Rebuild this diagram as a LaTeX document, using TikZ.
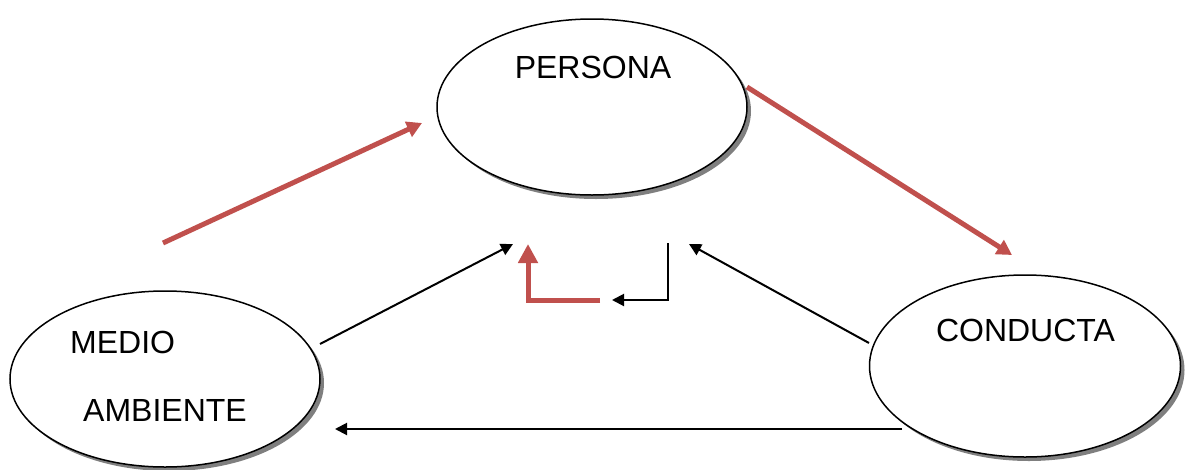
\documentclass[tikz,border=0pt]{standalone}
\usepackage{fontspec}
\setmainfont{Liberation Sans}
\usetikzlibrary{shapes.geometric,shadows,arrows.meta}
\definecolor{accred}{HTML}{C0504D}
\tikzset{
  bubble/.style={ellipse, draw=black, line width=1.5pt, fill=white, inner sep=0pt,
    drop shadow={shadow xshift=4pt, shadow yshift=-4pt, fill=black, opacity=0.5}},
  lbl/.style={inner sep=0pt, font=\fontsize{32}{38}\selectfont},
  redarrow/.style={draw=accred, line width=5pt, -{Triangle[length=15pt,width=16pt]}},
  blackarrow/.style={draw=black, line width=2pt, -{Triangle[length=12pt,width=12pt]}},
}
\begin{document}
\begin{tikzpicture}[x=1pt,y=-1pt]
\useasboundingbox (0,0) rectangle (1186,469);
% ellipses
\node[bubble, minimum width=310pt, minimum height=176pt] (persona) at (592,107) {};
\node[bubble, minimum width=310pt, minimum height=176pt] (medio) at (165,379) {};
\node[bubble, minimum width=311pt, minimum height=182pt] (conducta) at (1025,366) {};
% labels
\node[lbl, anchor=base] (tpersona) at (593,78) {PERSONA};
\node[lbl, anchor=base west] (tmedio) at (70,353) {MEDIO};
\node[lbl, anchor=base west] (tambiente) at (83,421.5) {AMBIENTE};
\node[lbl, anchor=base] (tconducta) at (1025.5,341) {CONDUCTA};
% connector endpoints
\coordinate (r1s) at (163,243);
\coordinate (r1e) at (422,123);
\coordinate (r2s) at (747,87);
\coordinate (r2e) at (1012,255);
\coordinate (b1s) at (320,344);
\coordinate (b1e) at (513,244);
\coordinate (b2s) at (869,343);
\coordinate (b2e) at (689,244);
\coordinate (b3s) at (902,429);
\coordinate (b3e) at (335,429);
\coordinate (rls) at (600,300);
\coordinate (rlc) at (528,300);
\coordinate (rle) at (528,244);
\coordinate (bls) at (668,243);
\coordinate (blc) at (668,300);
\coordinate (ble) at (612,300);
% arrows
\draw[redarrow] (r1s) -- (r1e);
\draw[redarrow] (r2s) -- (r2e);
\draw[blackarrow] (b1s) -- (b1e);
\draw[blackarrow] (b2s) -- (b2e);
\draw[blackarrow] (b3s) -- (b3e);
\draw[draw=accred, line width=5pt, line join=miter, -{Triangle[length=19pt,width=19pt]}] (rls) -- (rlc) -- (rle);
\draw[blackarrow, line join=miter] (bls) -- (blc) -- (ble);
\end{tikzpicture}
\end{document}
